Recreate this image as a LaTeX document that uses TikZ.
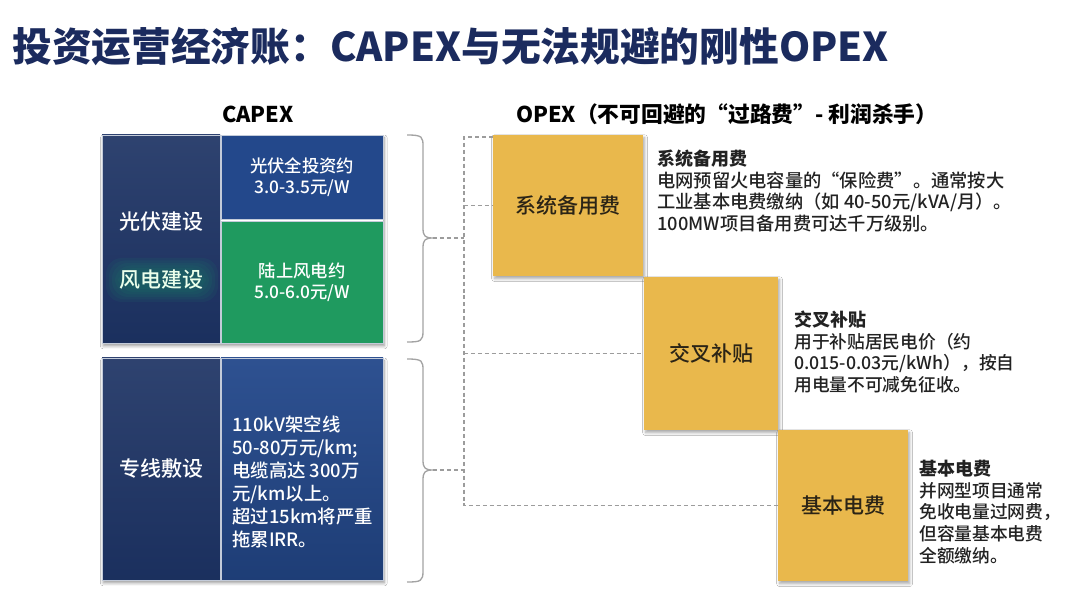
\documentclass[tikz,border=0pt]{standalone}
\usepackage{fontspec}
\setmainfont{Noto Sans CJK SC}
\newfontfamily\medfont{Noto Sans CJK SC Medium}
\usetikzlibrary{shadows.blur}
\definecolor{titlenavy}{HTML}{1B2B5E}
\definecolor{darkcol}{HTML}{1C3263}
\definecolor{midblue}{HTML}{23488B}
\definecolor{capgreen}{HTML}{1F9A5F}
\definecolor{gold}{HTML}{E9B84C}
\definecolor{goldtext}{HTML}{2B2416}
\definecolor{celledge}{HTML}{C3CBD9}
\definecolor{dashgray}{HTML}{9C9C9C}
\definecolor{bracegray}{HTML}{A3A3A3}
\definecolor{bodytext}{HTML}{222222}
\tikzset{
  cell/.style={draw=celledge, line width=0.6pt, inner sep=0pt, text=white, align=center},
  goldbox/.style={fill=gold, inner sep=0pt, text=goldtext, font=\medfont\fontsize{15.75}{18}\selectfont,
    blur shadow={shadow xshift=1.2pt, shadow yshift=-2pt, shadow blur steps=6, shadow opacity=35}},
  dashline/.style={draw=dashgray, line width=0.8pt, dash pattern=on 3pt off 2.2pt},
  bracestyle/.style={draw=bracegray, line width=1pt},
  desc/.style={anchor=west, inner sep=0pt, align=left, text=bodytext, font=\medfont\fontsize{13.3}{16.2}\selectfont},
  hdr/.style={font=\fontsize{16.3}{19}\selectfont\bfseries, text=black, inner sep=0pt},
}
\begin{document}
\begin{tikzpicture}[x=0.75pt,y=-0.75pt]
\useasboundingbox (0,0) rectangle (1080,605);
\fill[white] (0,0) rectangle (1080,605);

% title
\node[anchor=west, inner sep=0pt, text=titlenavy, font=\fontsize{29.8}{36}\selectfont\bfseries] (title) at (12,47) {投资运营经济账：CAPEX与无法规避的刚性OPEX};

% headers
\node[hdr] (caphdr) at (258,114) {CAPEX};
\node[hdr, anchor=west] (ophdr) at (516,114) {OPEX（不可回避的“过路费”- 利润杀手）};

% CAPEX group shadows
\fill[white, blur shadow={shadow xshift=1pt, shadow yshift=-2.2pt, shadow blur steps=6, shadow opacity=40}] (102,135) rectangle (383,343);
\fill[white, blur shadow={shadow xshift=1pt, shadow yshift=-2.2pt, shadow blur steps=6, shadow opacity=40}] (102,358) rectangle (383,580);

% top CAPEX cells
\node[cell, top color=darkcol!92!white, bottom color=darkcol!95!black, minimum width=88.5pt, minimum height=156pt] (pvleft) at (161,239) {};
\node[cell, fill=midblue, minimum width=121.5pt, minimum height=63pt, font=\medfont\fontsize{13}{15.75}\selectfont] (pvcost) at (302,177) {光伏全投资约\\3.0-3.5元/W};
\node[cell, fill=capgreen, minimum width=121.5pt, minimum height=91.5pt, font=\medfont\fontsize{13}{15.75}\selectfont] (windcost) at (302,282) {陆上风电约\\5.0-6.0元/W};

% glow behind wind label
\foreach \i in {0,...,5} {
  \fill[capgreen!70!teal, opacity=0.09, rounded corners=12pt] (162-56+\i*3,280-22+\i*2.5) rectangle (162+56-\i*3,280+22-\i*2.5);
}
\node[text=white, font=\medfont\fontsize{15.75}{18}\selectfont, inner sep=0pt] (pvlabel) at (161,222) {光伏建设};
\node[text=white!92!green, font=\medfont\fontsize{15.75}{18}\selectfont, inner sep=0pt] (windlabel) at (161,280) {风电建设};

% bottom CAPEX cells
\node[cell, top color=darkcol!92!white, bottom color=darkcol!95!black, minimum width=88.5pt, minimum height=166.5pt, font=\medfont\fontsize{15.75}{18}\selectfont] (lineleft) at (161,469) {专线敷设};
\node[cell, top color=midblue!95!white, bottom color=midblue!85!black, minimum width=121.5pt, minimum height=166.5pt] (lineright) at (302,469) {};
\node[anchor=west, inner sep=0pt, align=left, text=white, font=\medfont\fontsize{13.8}{17.25}\selectfont] (linetext) at (232,482) {110kV架空线\\50-80万元/km;\\电缆高达 300万\\元/km以上。\\超过15km将严重\\拖累IRR。};

% braces
\draw[bracestyle] (407,135) .. controls (423,135) and (423,137) .. (423,147) -- (423,228) .. controls (423,236) and (425,238) .. (433,238)
  .. controls (425,238) and (423,240) .. (423,248) -- (423,331) .. controls (423,341) and (421,342) .. (407,342);
\draw[bracestyle] (407,359) .. controls (423,359) and (423,361) .. (423,371) -- (423,460) .. controls (423,468) and (425,470) .. (433,470)
  .. controls (425,470) and (423,472) .. (423,480) -- (423,571) .. controls (423,581) and (421,582) .. (407,582);
\coordinate (tip1) at (433,238);
\coordinate (tip2) at (433,470);
\coordinate (spineTop) at (464,137);
\coordinate (spineBot) at (464,505.5);

% gold boxes
\node[goldbox, minimum width=112.5pt, minimum height=105.75pt] (box1) at (568,205.5) {系统备用费};
\node[goldbox, minimum width=100.5pt, minimum height=114.75pt] (box2) at (711,353.5) {交叉补贴};
\node[goldbox, minimum width=97.5pt, minimum height=113.25pt] (box3) at (843,505.5) {基本电费};

% dashed connectors
\draw[dashline] (spineTop -| box1.west) -- (spineTop) -- (spineBot) -- (box3.west);
\draw[dashline] (spineTop |- box1.west) -- (box1.west);
\draw[dashline] (spineTop |- box2.west) -- (box2.west);
\draw[dashline] (tip1) -- (tip1 -| spineTop);
\draw[dashline] (tip2) -- (tip2 -| spineTop);

% descriptions
\node[desc, font=\medfont\fontsize{13.7}{16.2}\selectfont] (desc1) at (657,191) {{\bfseries\fontsize{13.5}{16.2}\selectfont 系统备用费}\\电网预留火电容量的“保险费”。通常按大\\工业基本电费缴纳（如 40-50元/kVA/月）。\\100MW项目备用费可达千万级别。};
\node[desc] (desc2) at (794,352) {{\bfseries\fontsize{13.5}{16.2}\selectfont 交叉补贴}\\用于补贴居民电价（约\\0.015-0.03元/kWh），按自\\用电量不可减免征收。};
\node[desc] (desc3) at (919,512) {{\bfseries\fontsize{13.5}{16.2}\selectfont 基本电费}\\并网型项目通常\\免收电量过网费，\\但容量基本电费\\全额缴纳。};
\end{tikzpicture}
\end{document}
